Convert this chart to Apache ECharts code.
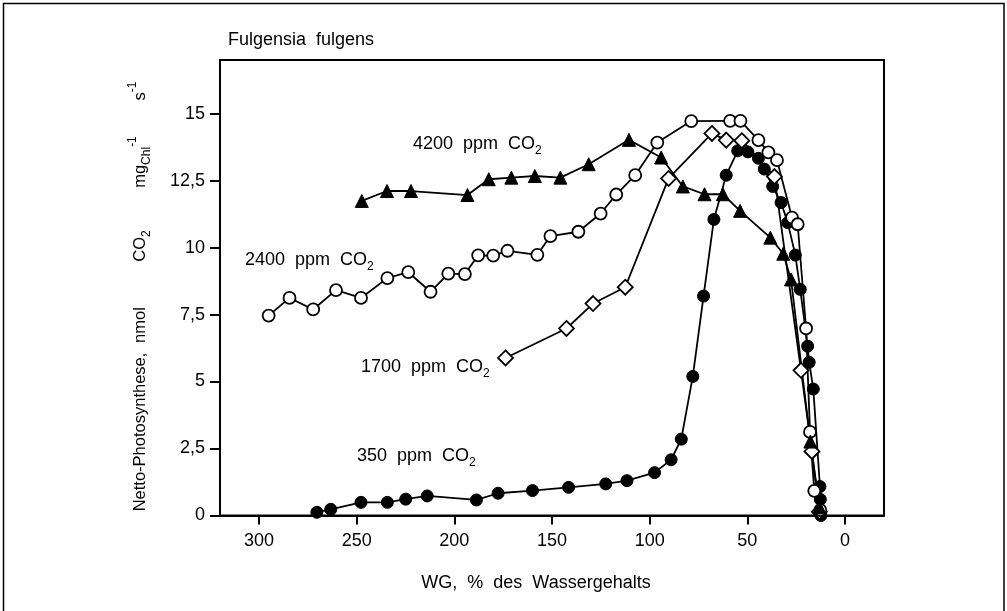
<!DOCTYPE html>
<html>
<head>
<meta charset="utf-8">
<script src="https://cdn.jsdelivr.net/npm/echarts@6/dist/echarts.min.js"></script>
<style>
  html, body { margin: 0; padding: 0; background: #fff; }
  #chart { width: 1007px; height: 611px; }
</style>
</head>
<body>
<div id="chart"></div>
<script>
// Fulgensia fulgens: net photosynthesis vs. water content at four CO2 levels.

const xTicks = [300, 250, 200, 150, 100, 50, 0];
const yTicks = [0, 2.5, 5, 7.5, 10, 12.5, 15];

const wg350 = [270.4, 263.3, 247.8, 234.3, 224.9, 213.9, 188.7, 177.6, 160, 141.5, 122.5, 111.6, 97.5, 89, 83.8, 77.9, 72.4, 67.1, 60.8, 54.9, 49.7, 44.3, 41.3, 37, 32.7, 29.3, 25.4, 22.9, 19.1, 18.3, 16.2, 12.8, 12.6, 12.3];
const ps350 = [0.12, 0.23, 0.49, 0.49, 0.61, 0.73, 0.58, 0.83, 0.93, 1.05, 1.18, 1.3, 1.6, 2.08, 2.85, 5.19, 8.19, 11.05, 12.7, 13.61, 13.57, 13.33, 12.93, 12.28, 11.68, 10.93, 9.72, 8.44, 6.32, 5.72, 4.72, 1.08, 0.6, 0];

const wg1700 = [173.8, 142.6, 129, 112.5, 90.3, 68.1, 60.8, 52.8, 36.1, 22.5, 16.9, 13.1];
const ps1700 = [5.88, 6.98, 7.91, 8.52, 12.58, 14.26, 14.01, 13.99, 12.65, 5.42, 2.39, 0.14];

const wg2400 = [295.1, 284.4, 272.3, 260.6, 247.8, 234.3, 223.6, 212.2, 203.1, 194.6, 187.8, 180.1, 172.8, 157.5, 150.8, 136.5, 125.1, 117.1, 107.4, 96.1, 78.7, 58.8, 53.5, 44.3, 39.2, 34.8, 27.1, 24.2, 19.9, 17.9, 15.7, 12.6];
const ps2400 = [7.46, 8.12, 7.69, 8.41, 8.12, 8.86, 9.08, 8.35, 9.03, 9.01, 9.71, 9.7, 9.88, 9.73, 10.43, 10.59, 11.27, 11.98, 12.7, 13.92, 14.72, 14.73, 14.73, 14.01, 13.55, 13.26, 11.12, 10.87, 6.98, 3.12, 0.92, 0.2];

const wg4200 = [247.4, 234.5, 222.2, 193.3, 182.4, 170.8, 158.8, 145.7, 131.2, 110.6, 94.1, 83, 71.9, 62.5, 53.7, 38.2, 31.6, 27.6, 17.7, 13.0];
const ps4200 = [11.74, 12.11, 12.11, 11.96, 12.55, 12.61, 12.67, 12.61, 13.11, 14.02, 13.36, 12.28, 11.99, 11.99, 11.37, 10.37, 9.77, 8.81, 2.76, 0.3];

const FONT = "'Liberation Sans', Arial, Helvetica, sans-serif";
const zip = (xs, ys) => xs.map((x, i) => [x, ys[i]]);
const comma = v => String(v).replace(".", ",");

function richAt(size) {
  return {
    n: { fontSize: size, fontFamily: FONT, color: "#000", lineHeight: 26 },
    sub: { fontSize: 12, fontFamily: FONT, color: "#000", lineHeight: 14, verticalAlign: "bottom" },
    sup: { fontSize: 12, fontFamily: FONT, color: "#000", lineHeight: 14, verticalAlign: "top" },
  };
}
const rich = richAt(18);
const yRich = richAt(16.5);

function note(text, x, y, extra = {}) {
  return {
    type: "text", x, y, silent: true,
    style: Object.assign({ text, rich, align: "left", verticalAlign: "middle", fontFamily: FONT, fontSize: 18, fill: "#000" }, extra),
  };
}

// pieces of the rotated y-axis title, placed along the axis
function yTitle(text, y) {
  return Object.assign(note(text, 140, y, { align: "center", rich: yRich }), { rotation: Math.PI / 2 });
}

function series(name, data, symbol, size, filled) {
  return {
    name, type: "line", data, symbol, symbolSize: size, showSymbol: true,
    lineStyle: { color: "#000", width: 1.8 },
    itemStyle: filled
      ? { color: "#000", borderColor: "#000", borderWidth: 1 }
      : { color: "#fff", borderColor: "#000", borderWidth: 1.8 },
    emphasis: { disabled: true },
  };
}

const chart = echarts.init(document.getElementById("chart"), null, { renderer: "canvas" });
chart.setOption({
  animation: false,
  backgroundColor: "#fff",
  grid: { left: 220, top: 60, right: 123, bottom: 95.5, show: true, borderColor: "#000", borderWidth: 2, backgroundColor: "transparent" },
  xAxis: {
    type: "value", inverse: true, min: -20, max: 320,
    axisLine: { show: true, onZero: false, lineStyle: { color: "#000", width: 2 } },
    axisTick: { show: true, length: 9, customValues: xTicks, lineStyle: { color: "#000", width: 2 } },
    axisLabel: { customValues: xTicks, margin: 17, color: "#000", fontSize: 18, fontFamily: FONT, formatter: comma },
    splitLine: { show: false },
  },
  yAxis: {
    type: "value", min: 0, max: 17,
    axisLine: { show: true, onZero: false, lineStyle: { color: "#000", width: 2 } },
    axisTick: { show: true, length: 10, customValues: yTicks, lineStyle: { color: "#000", width: 2 } },
    axisLabel: { customValues: yTicks, margin: 15, color: "#000", fontSize: 18, fontFamily: FONT, formatter: comma },
    splitLine: { show: false },
  },
  graphic: [
    { type: "rect", silent: true, shape: { x: 3.5, y: 3.5, width: 1000.5, height: 700 }, style: { fill: "none", stroke: "#000", lineWidth: 1.5 } },
    note("{n|Fulgensia  fulgens}", 228, 40),
    note("{n|4200  ppm  CO}{sub|2}", 413, 144),
    note("{n|2400  ppm  CO}{sub|2}", 245, 260),
    note("{n|1700  ppm  CO}{sub|2}", 361, 367),
    note("{n|350  ppm  CO}{sub|2}", 357, 456),
    note("{n|WG,  %  des  Wassergehalts}", 536, 583, { align: "center" }),
    yTitle("{n|Netto-Photosynthese,}", 432),
    yTitle("{n|nmol}", 325),
    yTitle("{n|CO}{sub|2}", 246),
    yTitle("{n|mg}{sub|Chl}{sup|-1}", 162),
    yTitle("{n|s}{sup|-1}", 91),
  ],
  series: [
    series("350 ppm", zip(wg350, ps350), "circle", 12, true),
    series("1700 ppm", zip(wg1700, ps1700), "diamond", 15, false),
    series("2400 ppm", zip(wg2400, ps2400), "circle", 12, false),
    series("4200 ppm", zip(wg4200, ps4200), "triangle", 13, true),
  ],
});
</script>
</body>
</html>
